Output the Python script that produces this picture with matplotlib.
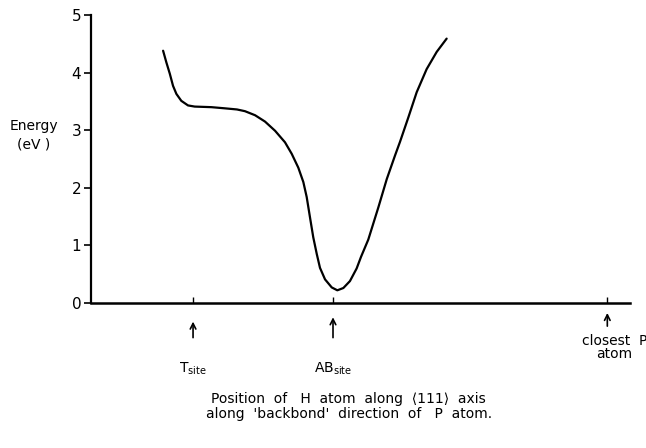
import matplotlib
matplotlib.use("Agg")
import matplotlib.pyplot as plt

plt.rcParams['font.family'] = ['DejaVu Sans']
plt.rcParams['mathtext.fontset'] = 'dejavusans'

# position along <111> axis (T site = 1, AB site = 2) and energy in eV
pos = [0.786, 0.809, 0.834, 0.857, 0.881, 0.916, 0.964, 1.012, 1.131, 1.226,
       1.314, 1.371, 1.443, 1.514, 1.586, 1.657, 1.705, 1.752, 1.788, 1.812,
       1.836, 1.859, 1.884, 1.907, 1.943, 1.991, 2.031, 2.074, 2.121, 2.169,
       2.200, 2.252, 2.324, 2.384, 2.443, 2.479, 2.538, 2.598, 2.669, 2.741,
       2.812]
energy = [4.38, 4.18, 3.98, 3.77, 3.63, 3.51, 3.43, 3.41, 3.40, 3.38,
          3.36, 3.33, 3.26, 3.15, 2.99, 2.79, 2.59, 2.35, 2.10, 1.84,
          1.48, 1.14, 0.85, 0.61, 0.41, 0.27, 0.22, 0.26, 0.38, 0.60,
          0.80, 1.10, 1.66, 2.15, 2.56, 2.80, 3.22, 3.66, 4.06, 4.36,
          4.59]

site_pos = [1.0, 2.0, 3.96]
site_labels = [r'T$_{\mathrm{site}}$', r'AB$_{\mathrm{site}}$', 'closest  P\natom']
yticks = [0, 1, 2, 3, 4, 5]

fig = plt.figure(figsize=(6.46, 4.48), dpi=100)
ax = fig.add_axes([0.1409, 0.3237, 0.975 - 0.1409, 0.9665 - 0.3237])

ax.plot(pos, energy, color='black', lw=1.6, solid_joinstyle='round',
        solid_capstyle='round')

ax.set_xlim(0.271, 4.121)
ax.set_ylim(0, 5)
ax.spines['top'].set_visible(False)
ax.spines['right'].set_visible(False)
ax.spines['left'].set_linewidth(1.6)
ax.spines['bottom'].set_linewidth(1.8)

ax.set_yticks(yticks)
ax.set_yticklabels([str(t) for t in yticks], fontsize=11)
ax.tick_params(axis='y', direction='out', length=5, width=1.2, pad=2)
ax.set_xticks(site_pos)
ax.set_xticklabels([])
ax.tick_params(axis='x', direction='in', length=4, width=1.0)

ax.text(-0.106, 0.583, 'Energy\n(eV )', transform=ax.transAxes, ha='center',
        va='center', fontsize=10, linespacing=1.4)

# arrows and labels under the axis
arrow_tops = [-0.055, -0.04, -0.025]
arrow_bots = [-0.13, -0.13, -0.09]
for p, top, bot in zip(site_pos, arrow_tops, arrow_bots):
    ax.annotate('', xy=(p, top), xytext=(p, bot),
                xycoords=('data', 'axes fraction'),
                arrowprops=dict(arrowstyle='->', lw=1.2, color='black'),
                annotation_clip=False)

ax.text(site_pos[0], -0.23, site_labels[0], transform=ax.get_xaxis_transform(),
        ha='center', va='center', fontsize=10)
ax.text(site_pos[1], -0.23, site_labels[1], transform=ax.get_xaxis_transform(),
        ha='center', va='center', fontsize=10)
ax.text(site_pos[2] + 0.05, -0.155, site_labels[2], transform=ax.get_xaxis_transform(),
        ha='center', va='center', fontsize=10, linespacing=0.95)

fig.text(0.54, 0.092, 'Position  of   H  atom  along  \u27e8111\u27e9  axis\n'
         "along  'backbond'  direction  of   P  atom.",
         ha='center', va='center', fontsize=10, linespacing=1.1)

fig.savefig('out.png', dpi=100)
